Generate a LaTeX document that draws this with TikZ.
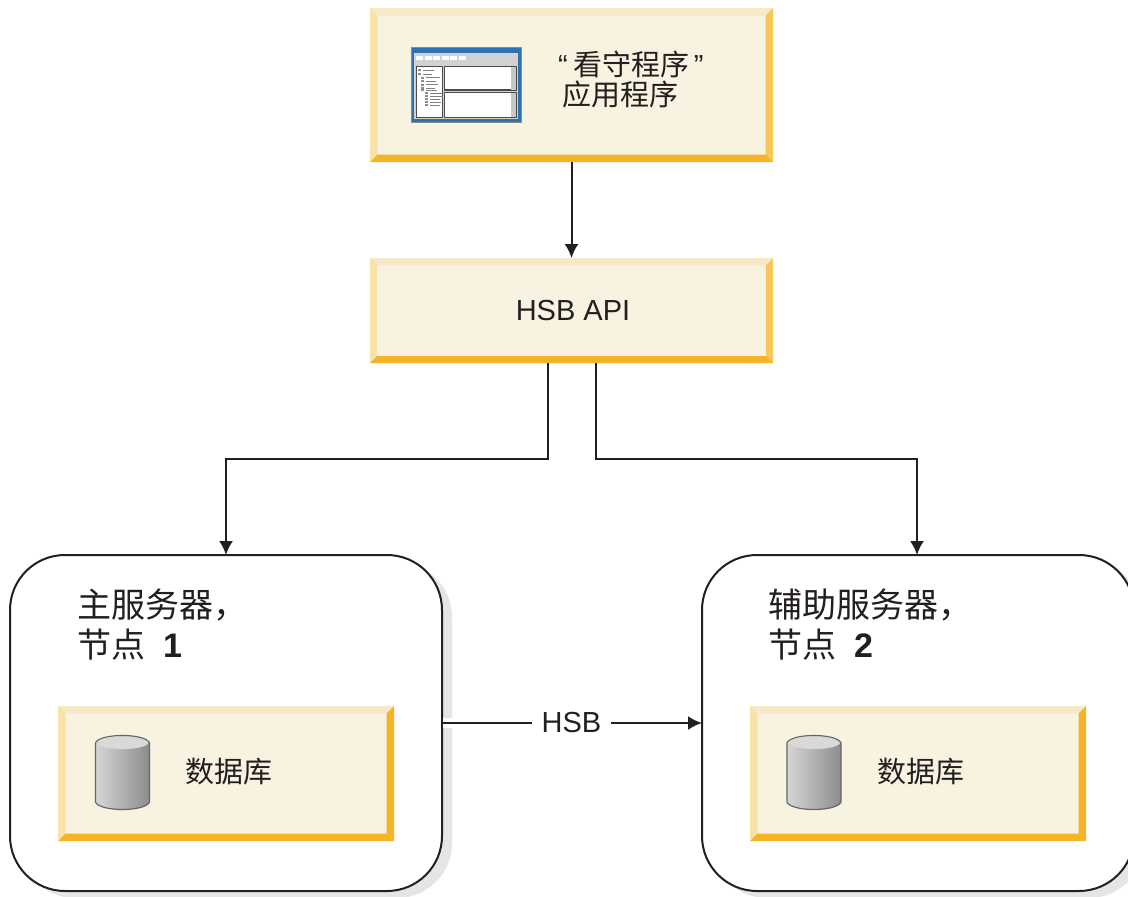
\documentclass[tikz,border=0pt]{standalone}
\usepackage{fontspec}
\setmainfont{Liberation Sans}
\newfontfamily\cjk{Noto Sans CJK SC}
\usetikzlibrary{arrows.meta,shadows}
\definecolor{panelcream}{HTML}{F8F3E0}
\definecolor{beveltop}{HTML}{F5E9C8}
\definecolor{bevelleft}{HTML}{F8E2A8}
\definecolor{bevelsoft}{HTML}{F6C85C}
\definecolor{bevelstrong}{HTML}{F5B428}
\definecolor{inktext}{HTML}{231F20}
\definecolor{winblue}{HTML}{2E72B4}
\tikzset{
  panel/.style={fill=panelcream,inner sep=0pt,outer sep=0pt,text=inktext},
  server/.style={draw=inktext,line width=2pt,fill=white,rounded corners=55pt,inner sep=0pt,outer sep=0pt,
    minimum width=432pt,minimum height=336pt,
    drop shadow={shadow xshift=10pt,shadow yshift=-7pt,fill=black!10,opacity=1}},
  link/.style={draw=inktext,line width=2pt,-{Latex[length=14pt,width=14pt]}},
  cjklabel/.style={anchor=west,inner sep=0pt,text=inktext,align=left,font=\cjk\fontsize{29}{30}\selectfont},
  srvlabel/.style={anchor=west,inner sep=0pt,text=inktext,align=left,font=\cjk\fontsize{34}{40}\selectfont},
}
\newcommand{\bevels}[3]{% node, bevel width, right colour
  \fill[beveltop] (#1.north west) -- (#1.north east) -- ([shift={(-#2pt,-#2pt)}]#1.north east) -- ([shift={(#2pt,-#2pt)}]#1.north west) -- cycle;
  \fill[bevelleft] (#1.north west) -- (#1.south west) -- ([shift={(#2pt,#2pt)}]#1.south west) -- ([shift={(#2pt,-#2pt)}]#1.north west) -- cycle;
  \fill[#3] (#1.north east) -- (#1.south east) -- ([shift={(-#2pt,#2pt)}]#1.south east) -- ([shift={(-#2pt,-#2pt)}]#1.north east) -- cycle;
  \fill[bevelstrong] (#1.south west) -- (#1.south east) -- ([shift={(-#2pt,#2pt)}]#1.south east) -- ([shift={(#2pt,#2pt)}]#1.south west) -- cycle;
}
\newcommand{\dbdrum}[1]{% left edge of the drum
  \draw[draw=black!60,line width=1.2pt,left color=black!16,right color=black!45]
    (#1,743) -- (#1,802) .. controls (#1+4,812) and (#1+50,812) .. (#1+54,802) -- (#1+54,743)
    .. controls (#1+50,733) and (#1+4,733) .. (#1,743) -- cycle;
  \fill[black!15] (#1+1,743) .. controls (#1+5,734) and (#1+49,734) .. (#1+53,743)
    .. controls (#1+49,751) and (#1+5,751) .. (#1+1,743) -- cycle;
}
\begin{document}
\begin{tikzpicture}[x=1pt,y=-1pt]
\useasboundingbox (0,0) rectangle (1128,897);
\clip (0,0) rectangle (1128,897);
\fill[white] (0,0) rectangle (1128,897);
% top boxes
\node[panel,minimum width=403pt,minimum height=154pt] (app) at (571.5,85) {};
\bevels{app}{7.5}{bevelsoft}
\node[panel,minimum width=403pt,minimum height=105pt] (hsbapi) at (571.5,310.5) {};
\bevels{hsbapi}{7}{bevelsoft}
\node[inner sep=0pt,text=inktext,font=\fontsize{29}{32}\selectfont] (hsbapitext) at (573,310.5) {HSB API};
\node[cjklabel] (apptext) at (558,80) {{\fontfamily{\rmdefault}\selectfont “}\kern6pt 看守程序\kern4pt{\fontfamily{\rmdefault}\selectfont ”}\\\kern4pt 应用程序};
% window icon
\fill[black!45] (411,47) rectangle (522,123);
\fill[winblue] (412,48) rectangle (521,122);
\fill[black!18] (414,53) rectangle (518,119);
\foreach \bx/\bw in {416/7,425/7,433/7,442/7,450/7,459/7} \fill[white] (\bx,56) rectangle (\bx+\bw,60);
\foreach \px/\py/\qx/\qy in {416.5/66.5/442.5/117.5,444.5/66.5/516.5/90,444.5/92.5/516.5/117.5}
  \draw[black!70,line width=1.4pt,fill=white] (\px,\py) rectangle (\qx,\qy);
\fill[black!22] (511,67) rectangle (516,89.5);
\fill[black!22] (511,93) rectangle (516,117);
\foreach \ty/\tx/\tl in {70/418/11,74/418/9,77.5/421/14,81/421/10,84.5/421/12,88/421/9,90/421/11,93/425/12,96/425/13,99/425/10,102/425/11,105/425/10}{
  \fill[black!45] (\tx,\ty-1) rectangle (\tx+3,\ty+1);
  \fill[black!50] (\tx+5,\ty-.5) rectangle (\tx+5+\tl,\ty+.5);
}
% servers
\node[server] (primary) at (226,723) {};
\node[server] (secondary) at (918,723) {};
\node[srvlabel] (primarytext) at (77,625) {主服务器，\\节点\hspace{18pt}{\rmfamily\bfseries 1}};
\node[srvlabel] (secondarytext) at (768,625) {辅助服务器，\\节点\hspace{18pt}{\rmfamily\bfseries 2}};
% database boxes
\node[panel,minimum width=336pt,minimum height=135pt] (dbprimary) at (226,773.5) {};
\bevels{dbprimary}{7.5}{bevelstrong}
\node[panel,minimum width=336pt,minimum height=135pt] (dbsecondary) at (918,773.5) {};
\bevels{dbsecondary}{7.5}{bevelstrong}
\dbdrum{95.5}
\dbdrum{787}
\node[cjklabel] (dbprimarytext) at (185,772) {数据库};
\node[cjklabel] (dbsecondarytext) at (877,772) {数据库};
% connectors
\coordinate (busleft) at (226,459);
\coordinate (busright) at (917,459);
\draw[link] (app.south) -- (hsbapi.north);
\draw[link] ([xshift=-23.5pt]hsbapi.south) |- (busleft) -- (primary.north);
\draw[link] ([xshift=24.5pt]hsbapi.south) |- (busright) -- (secondary.north -| busright);
\fill[white] (443,717.5) rectangle (453,728);
\draw[link] (primary.east) -- (secondary.west) node[pos=.498,fill=white,inner xsep=10pt,inner ysep=2pt,text=inktext,font=\fontsize{29}{32}\selectfont] (hsblink) {HSB};
\end{tikzpicture}
\end{document}
